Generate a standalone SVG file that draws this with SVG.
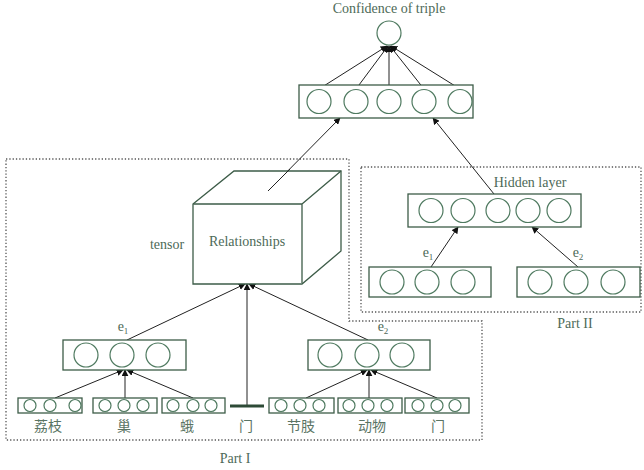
<svg xmlns="http://www.w3.org/2000/svg" width="644" height="470" viewBox="0 0 644 470">
  <style>
    .box { fill: #ffffff; stroke: #3d5c48; stroke-width: 1.3; }
    .nd { fill: #ffffff; stroke: #4f7a60; stroke-width: 1.2; }
    .edge { stroke: #222; stroke-width: 1; fill: none; }
    .arr { stroke: #222; stroke-width: 1; fill: none; marker-end: url(#head); }
    .region { fill: none; stroke: #555; stroke-width: 1.3; stroke-dasharray: 1.3 2; }
    .lbl { font-family: "Liberation Serif", "Times New Roman", serif; font-size: 14px; fill: #4d6a58; }
    .cjk { font-family: "Liberation Serif", "Noto Sans CJK SC", sans-serif; font-size: 14px; fill: #5a7464; }
    .cube { fill: #ffffff; stroke: #3d5c48; stroke-width: 1.3; stroke-linejoin: miter; }
  </style>
  <defs>
    <marker id="head" viewBox="0 0 10 10" refX="9" refY="5" markerWidth="7" markerHeight="7" orient="auto" markerUnits="userSpaceOnUse">
      <path d="M0,0 L10,5 L0,10 z" fill="#111"/>
    </marker>
  </defs>

  <!-- region outlines -->
  <g id="regions">
    <path class="region" d="M6,159 H349 V321 H482 V440 H6 Z"/>
    <rect class="region" x="361" y="167" width="280" height="145"/>
  </g>

  <!-- connectors -->
  <g id="connectors">
    <!-- output layer to score node -->
    <line class="arr" x1="319" y1="89" x2="387" y2="46"/>
    <line class="arr" x1="356" y1="89" x2="388" y2="46"/>
    <line class="arr" x1="389" y1="89" x2="389" y2="46"/>
    <line class="arr" x1="424" y1="89" x2="390" y2="46"/>
    <line class="arr" x1="460" y1="89" x2="391" y2="46"/>
    <!-- tensor and hidden layer to output layer -->
    <line class="arr" x1="268" y1="191" x2="340" y2="118"/>
    <line class="arr" x1="494" y1="194" x2="433" y2="118"/>
    <!-- part II embeddings to hidden layer -->
    <line class="arr" x1="431" y1="267" x2="458" y2="227"/>
    <line class="arr" x1="578" y1="267" x2="532" y2="227"/>
    <!-- entity vectors and relation word to tensor -->
    <line class="arr" x1="127" y1="340" x2="245" y2="284"/>
    <line class="arr" x1="247" y1="406" x2="247" y2="284"/>
    <line class="arr" x1="368" y1="340" x2="249" y2="284"/>
    <!-- word vectors to e1 -->
    <line class="arr" x1="55" y1="398" x2="123" y2="370"/>
    <line class="arr" x1="125" y1="398" x2="125" y2="370"/>
    <line class="arr" x1="193" y1="398" x2="127" y2="370"/>
    <!-- word vectors to e2 -->
    <line class="arr" x1="306" y1="398" x2="367" y2="370"/>
    <line class="arr" x1="369" y1="398" x2="369" y2="370"/>
    <line class="arr" x1="437" y1="398" x2="371" y2="370"/>
  </g>

  <!-- score node -->
  <g id="score">
    <text class="lbl" x="389" y="13" text-anchor="middle">Confidence of triple</text>
    <circle class="nd" cx="389" cy="33" r="12"/>
  </g>

  <!-- output layer -->
  <g id="output-layer">
    <rect class="box" x="299" y="85" width="174" height="33"/>
    <circle class="nd" cx="319" cy="101.5" r="12"/>
    <circle class="nd" cx="356" cy="101.5" r="12"/>
    <circle class="nd" cx="389" cy="101.5" r="12"/>
    <circle class="nd" cx="424" cy="101.5" r="12"/>
    <circle class="nd" cx="460" cy="101.5" r="12"/>
  </g>

  <!-- relation tensor cube -->
  <g id="tensor">
    <path class="cube" d="M193,204 L234,171 H341 V251 L302,284 H193 Z"/>
    <path class="cube" d="M193,204 H302 V284 M302,204 L341,171"/>
    <line class="edge" x1="268" y1="191" x2="290" y2="169"/>
    <text class="lbl" x="167" y="249" text-anchor="middle">tensor</text>
    <text class="lbl" x="247" y="246" text-anchor="middle">Relationships</text>
  </g>

  <!-- hidden layer -->
  <g id="hidden-layer">
    <text class="lbl" x="530" y="187" text-anchor="middle">Hidden layer</text>
    <rect class="box" x="408" y="194" width="173" height="33"/>
    <circle class="nd" cx="431" cy="210.5" r="12"/>
    <circle class="nd" cx="463" cy="210.5" r="12"/>
    <circle class="nd" cx="498" cy="210.5" r="12"/>
    <circle class="nd" cx="528" cy="210.5" r="12"/>
    <circle class="nd" cx="559" cy="210.5" r="12"/>
  </g>

  <!-- part II entity embeddings -->
  <g id="p2-e1">
    <text class="lbl" x="428" y="257" text-anchor="middle">e<tspan font-size="9" dy="3">1</tspan></text>
    <rect class="box" x="369" y="267" width="122" height="30"/>
    <circle class="nd" cx="392" cy="282" r="12"/>
    <circle class="nd" cx="427" cy="282" r="12"/>
    <circle class="nd" cx="463" cy="282" r="12"/>
  </g>
  <g id="p2-e2">
    <text class="lbl" x="578" y="257" text-anchor="middle">e<tspan font-size="9" dy="3">2</tspan></text>
    <rect class="box" x="517" y="267" width="123" height="30"/>
    <circle class="nd" cx="540" cy="282" r="12"/>
    <circle class="nd" cx="576" cy="282" r="12"/>
    <circle class="nd" cx="613" cy="282" r="12"/>
  </g>
  <text class="lbl" x="575" y="328" text-anchor="middle">Part II</text>

  <!-- part I entity vectors -->
  <g id="e1">
    <text class="lbl" x="123" y="331" text-anchor="middle">e<tspan font-size="9" dy="3">1</tspan></text>
    <rect class="box" x="63" y="340" width="123" height="30"/>
    <circle class="nd" cx="86" cy="355" r="12"/>
    <circle class="nd" cx="122" cy="355" r="12"/>
    <circle class="nd" cx="158" cy="355" r="12"/>
  </g>
  <g id="e2">
    <text class="lbl" x="383" y="331" text-anchor="middle">e<tspan font-size="9" dy="3">2</tspan></text>
    <rect class="box" x="308" y="340" width="122" height="30"/>
    <circle class="nd" cx="330" cy="355" r="12"/>
    <circle class="nd" cx="367" cy="355" r="12"/>
    <circle class="nd" cx="402" cy="355" r="12"/>
  </g>

  <!-- word vectors -->
  <g id="w-lizhi">
    <rect class="box" x="18" y="398" width="64" height="15"/>
    <circle class="nd" cx="30" cy="405.5" r="6"/>
    <circle class="nd" cx="50" cy="405.5" r="6"/>
    <circle class="nd" cx="75" cy="405.5" r="6"/>
    <text class="cjk" x="48" y="431" text-anchor="middle">荔枝</text>
  </g>
  <g id="w-chao">
    <rect class="box" x="93" y="398" width="64" height="15"/>
    <circle class="nd" cx="105" cy="405.5" r="6"/>
    <circle class="nd" cx="124" cy="405.5" r="6"/>
    <circle class="nd" cx="143" cy="405.5" r="6"/>
    <text class="cjk" x="124" y="431" text-anchor="middle">巢</text>
  </g>
  <g id="w-e">
    <rect class="box" x="162" y="398" width="63" height="15"/>
    <circle class="nd" cx="173" cy="405.5" r="6"/>
    <circle class="nd" cx="193" cy="405.5" r="6"/>
    <circle class="nd" cx="211" cy="405.5" r="6"/>
    <text class="cjk" x="187" y="431" text-anchor="middle">蛾</text>
  </g>
  <g id="w-men-rel">
    <line x1="230" y1="406" x2="264" y2="406" stroke="#2d4a36" stroke-width="3.2"/>
    <text class="cjk" x="246" y="431" text-anchor="middle">门</text>
  </g>
  <g id="w-jiezhi">
    <rect class="box" x="269" y="398" width="65" height="15"/>
    <circle class="nd" cx="281" cy="405.5" r="6"/>
    <circle class="nd" cx="300" cy="405.5" r="6"/>
    <circle class="nd" cx="319" cy="405.5" r="6"/>
    <text class="cjk" x="301" y="431" text-anchor="middle">节肢</text>
  </g>
  <g id="w-dongwu">
    <rect class="box" x="338" y="398" width="64" height="15"/>
    <circle class="nd" cx="349" cy="405.5" r="6"/>
    <circle class="nd" cx="368" cy="405.5" r="6"/>
    <circle class="nd" cx="387" cy="405.5" r="6"/>
    <text class="cjk" x="372" y="431" text-anchor="middle">动物</text>
  </g>
  <g id="w-men">
    <rect class="box" x="405" y="398" width="64" height="15"/>
    <circle class="nd" cx="418" cy="405.5" r="6"/>
    <circle class="nd" cx="437" cy="405.5" r="6"/>
    <circle class="nd" cx="455" cy="405.5" r="6"/>
    <text class="cjk" x="438" y="431" text-anchor="middle">门</text>
  </g>

  <text class="lbl" x="235" y="463" text-anchor="middle">Part I</text>
</svg>
